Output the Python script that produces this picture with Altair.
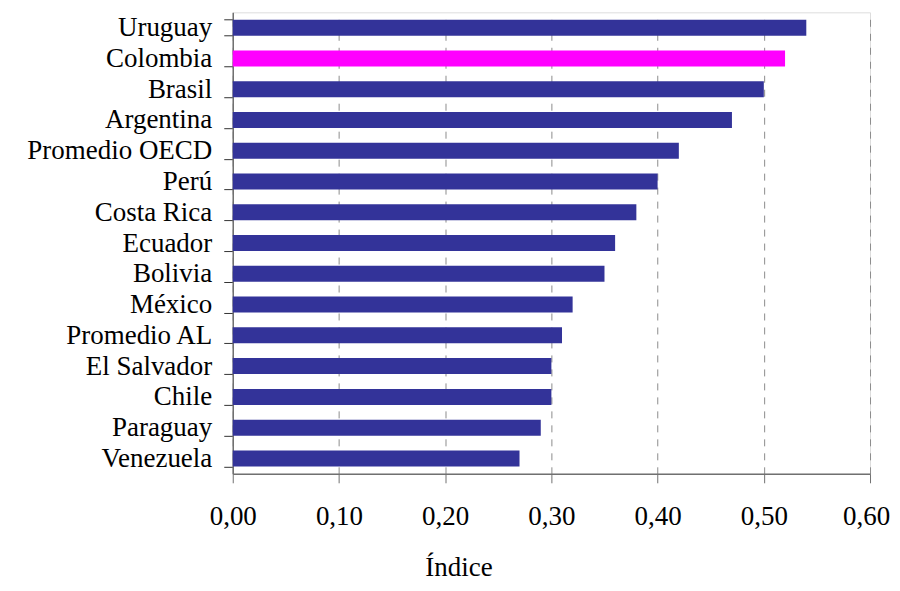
import altair as alt
import pandas as pd

countries = ["Uruguay", "Colombia", "Brasil ", "Argentina", "Promedio OECD", "Perú",
             "Costa Rica", "Ecuador", "Bolivia", "México", "Promedio AL",
             "El Salvador", "Chile", "Paraguay", "Venezuela"]
values = [0.54, 0.52, 0.50, 0.47, 0.42, 0.40, 0.38, 0.36, 0.35, 0.32, 0.31,
          0.30, 0.30, 0.29, 0.27]
highlight = ["Colombia"]

df = pd.DataFrame({"pais": countries, "indice": values})
df["grupo"] = ["hl" if c in highlight else "base" for c in countries]

FONT = "Liberation Serif"

chart = alt.Chart(df).mark_bar().encode(
    x=alt.X("indice:Q",
            scale=alt.Scale(domain=[0, 0.6], nice=False, zero=True),
            axis=alt.Axis(values=[0, 0.1, 0.2, 0.3, 0.4, 0.5, 0.6],
                          labelExpr="replace(format(datum.value, '.2f'), '.', ',')",
                          title="Índice",
                          grid=True, gridDash=[7, 7], gridColor="#8c8c8c", gridWidth=1,
                          domainColor="#707070", domainWidth=1.5,
                          tickColor="#707070", tickSize=9, tickWidth=1,
                          labelFont=FONT, labelFontSize=27, labelColor="black",
                          labelPadding=21, labelFlush=False,
                          labelOffset={"condition": {"test": "datum.value > 0.55", "value": -4},
                                       "value": 0},
                          titleFont=FONT, titleFontSize=27, titleFontWeight="normal",
                          titleColor="black", titleX=226, titleY=102,
                          titleAlign="center", titleBaseline="alphabetic")),
    y=alt.Y("pais:N", sort=countries,
            scale=alt.Scale(paddingInner=0.48, paddingOuter=0.24),
            axis=alt.Axis(title=None, tickBand="extent",
                          domainColor="#707070", domainWidth=1.5,
                          tickColor="#333333", tickSize=9, tickWidth=1,
                          labelFont=FONT, labelFontSize=27, labelColor="black",
                          labelPadding=12, labelAlign="right",
                          labelBaseline="middle", labelLimit=0)),
    color=alt.Color("grupo:N",
                    scale=alt.Scale(domain=["base", "hl"], range=["#333399", "#FF00FF"]),
                    legend=None),
).properties(
    width=638,
    height=462,
    autosize=alt.AutoSizeParams(type="none"),
    padding={"left": 225, "top": 4, "right": 22, "bottom": 109},
).configure_view(stroke=None).configure(background="white")

chart.save("out.html", embed_options={"renderer": "svg", "actions": False})
